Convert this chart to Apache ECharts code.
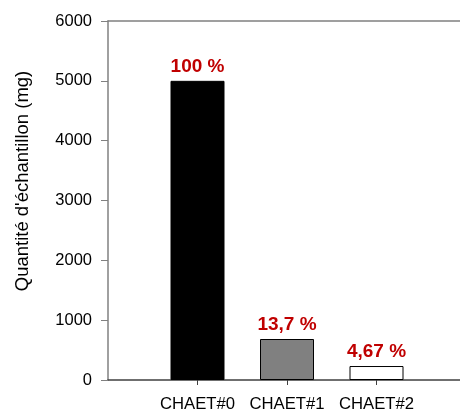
<!DOCTYPE html>
<html><head><meta charset="utf-8">
<script src="https://cdn.jsdelivr.net/npm/echarts@6/dist/echarts.min.js"></script>
<style>html,body{margin:0;padding:0;background:#fff}#c{width:460px;height:409px}</style>
</head><body><div id="c"></div>
<script>
const categories = ["CHAET#0", "CHAET#1", "CHAET#2"];
const values = [5000, 685, 233.5];
const percentLabels = ["100 %", "13,7 %", "4,67 %"];
const barColors = ["#000000", "#808080", "#ffffff"];
const yTicks = [0, 1000, 2000, 3000, 4000, 5000, 6000];
const yTitle = "Quantité d'échantillon (mg)";

const chart = echarts.init(document.getElementById('c'), null, {renderer: 'canvas'});
const font = "'Liberation Sans', Arial, sans-serif";
const catPos = categories.map((c, i) => i + 1);
chart.setOption({
  animation: false,
  grid: {left: 108, right: 0, top: 21, bottom: 29, show: false, containLabel: false, outerBoundsMode: 'none'},
  graphic: [{
    type: 'text', x: 23, y: 181, rotation: Math.PI / 2,
    style: {text: yTitle, fontFamily: font, fontSize: 18.5, fill: '#000', align: 'center', verticalAlign: 'middle'}
  }],
  xAxis: [{
    type: 'value', min: 0, max: 352 / 89.5,
    interval: 1,
    splitLine: {show: false},
    axisLine: {show: true, lineStyle: {color: '#404040', width: 1.5}},
    axisTick: {show: true, length: 5, customValues: catPos, lineStyle: {color: '#404040'}},
    axisLabel: {color: '#000', fontFamily: font, fontSize: 16.7, margin: 16, customValues: catPos,
      formatter: v => categories[Math.round(v) - 1] || ''}
  }, {
    type: 'value', position: 'top', min: 0, max: 352 / 89.5,
    splitLine: {show: false},
    axisLine: {show: true, lineStyle: {color: '#808080', width: 1.5}},
    axisTick: {show: false}, axisLabel: {show: false}
  }],
  yAxis: {
    type: 'value', min: yTicks[0], max: yTicks[yTicks.length - 1], interval: 1000,
    splitLine: {show: false},
    axisLine: {show: true, lineStyle: {color: '#808080', width: 1.5}},
    axisTick: {show: true, length: 7, lineStyle: {color: '#808080'}},
    axisLabel: {color: '#000', fontFamily: font, fontSize: 16.5, margin: 16, formatter: v => String(v)}
  },
  series: [{
    type: 'bar', barWidth: 54, xAxisIndex: 0,
    data: values.map((v, i) => ({
      value: [i + 1, v],
      itemStyle: {color: barColors[i], borderColor: '#000', borderWidth: 1},
      label: {show: true, position: 'top', distance: 5, formatter: percentLabels[i],
        color: '#c00000', fontWeight: 'bold', fontFamily: font, fontSize: 19}
    }))
  }]
});
</script></body></html>
